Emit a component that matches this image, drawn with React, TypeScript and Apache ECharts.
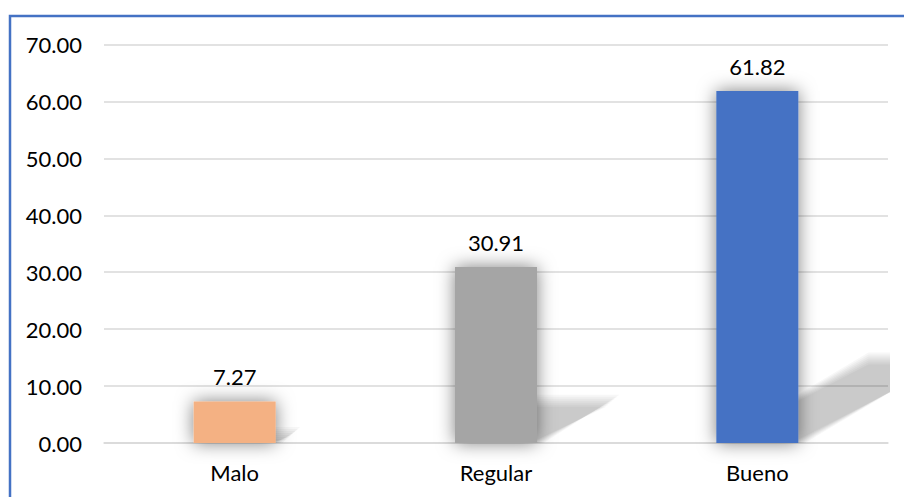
import React, { useEffect, useRef } from "react";
import * as echarts from "echarts";

const categories = ["Malo", "Regular", "Bueno"];
const values = [7.27, 30.91, 61.82];
const barColors = ["#F4B183", "#A5A5A5", "#4472C4"];
const yTicks = { min: 0, max: 70, interval: 10 };

const FONT = "Lato, 'Open Sans', sans-serif";
const FONT_SIZE = 22;
const BAR_W = 82;

// keep the part of a polygon that lies left of xMax
function clipRight(pts: number[][], xMax: number): number[][] {
  const out: number[][] = [];
  for (let k = 0; k < pts.length; k++) {
    const a = pts[k];
    const b = pts[(k + 1) % pts.length];
    const aIn = a[0] <= xMax;
    const bIn = b[0] <= xMax;
    if (aIn) out.push(a);
    if (aIn !== bIn) {
      const t = (xMax - a[0]) / (b[0] - a[0]);
      out.push([xMax, a[1] + t * (b[1] - a[1])]);
    }
  }
  return out;
}

export default function App() {
  const ref = useRef<HTMLDivElement>(null);

  useEffect(() => {
    if (!ref.current) return;
    const chart = echarts.init(ref.current, undefined, { renderer: "svg" });

    chart.setOption({
      animation: false,
      backgroundColor: "#ffffff",
      grid: { left: 104, right: 16, top: 44.5, bottom: 54 },
      graphic: [
        {
          type: "rect",
          z: 100,
          silent: true,
          shape: { x: 10, y: 16, width: 1200, height: 1200 },
          style: { fill: "none", stroke: "#4472C4", lineWidth: 2.5 },
        },
      ],
      xAxis: {
        type: "category",
        data: categories,
        axisLine: { show: true, lineStyle: { color: "#D9D9D9", width: 1.5 } },
        axisTick: { show: false },
        axisLabel: { color: "#000", fontFamily: FONT, fontSize: FONT_SIZE, margin: 18 },
      },
      yAxis: {
        type: "value",
        min: yTicks.min,
        max: yTicks.max,
        interval: yTicks.interval,
        axisLine: { show: false },
        axisTick: { show: false },
        splitLine: { lineStyle: { color: "#D9D9D9", width: 1.5 } },
        axisLabel: {
          color: "#000",
          fontFamily: FONT,
          fontSize: FONT_SIZE,
          margin: 22,
          formatter: (v: number) => v.toFixed(2),
        },
      },
      series: [
        {
          // soft perspective cast shadows behind each bar, built from stacked translucent layers
          type: "custom",
          z: 1,
          silent: true,
          data: values.map((v, i) => [i, v]),
          renderItem: (params: any, api: any) => {
            const i = api.value(0);
            const v = api.value(1);
            const base = api.coord([i, 0]);
            const top = api.coord([i, v]);
            const xMax = params.coordSys.x + params.coordSys.width + 2;
            const barH = base[1] - top[1];
            const h = barH * 0.24;
            const dx = h * 1.8;
            const l = base[0] - BAR_W / 2;
            const r = base[0] + BAR_W / 2;
            const y0 = base[1];
            const children: any[] = [];
            const spread = [-6, -4, -2, 0, 2, 4, 6];
            for (const e of spread) {
              const pts = clipRight(
                [
                  [l, y0],
                  [r + e * 1.1, y0],
                  [r + dx + e * 1.1, y0 - h - e],
                  [l + dx, y0 - h - e],
                ],
                xMax
              );
              children.push({
                type: "polygon",
                shape: { points: pts },
                style: { fill: "rgba(0,0,0,0.032)" },
              });
            }
            return { type: "group", children };
          },
        },
        {
          type: "bar",
          z: 2,
          barWidth: BAR_W,
          data: values.map((v, i) => ({
            value: v,
            itemStyle: {
              color: barColors[i],
              shadowBlur: 18,
              shadowColor: "rgba(0,0,0,0.5)",
            },
          })),
          label: {
            show: true,
            position: "top",
            distance: 14,
            color: "#000",
            fontFamily: FONT,
            fontSize: FONT_SIZE,
            formatter: (p: any) => Number(p.value).toFixed(2),
          },
        },
      ],
    });

    return () => chart.dispose();
  }, []);

  return (
    <div
      ref={ref}
      style={{ position: "fixed", left: 0, top: 0, width: 904, height: 497 }}
    />
  );
}
